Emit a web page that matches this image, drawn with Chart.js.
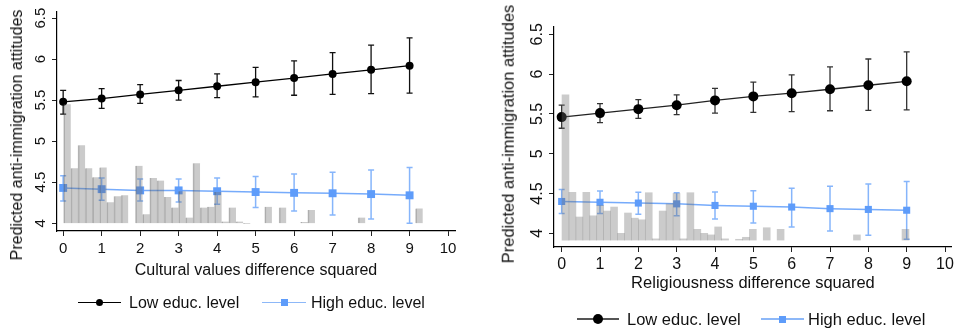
<!DOCTYPE html>
<html>
<head>
<meta charset="utf-8">
<script src="https://cdn.jsdelivr.net/npm/chart.js@4.4.1/dist/chart.umd.min.js"></script>
<style>
  html, body { margin: 0; padding: 0; background: #fff; }
  #wrap { position: relative; width: 957px; height: 329px; overflow: hidden;
          font-family: 'Liberation Sans', Arial, sans-serif; color: #111; }
  .panel { position: absolute; top: 0; height: 329px; }
  .ytitle { position: absolute; white-space: nowrap; line-height: 1;
            transform: translate(-50%, -50%) rotate(-90deg); }
  .leg { position: absolute; white-space: nowrap; line-height: 1; }
  .legline { position: absolute; }
  .legdot { position: absolute; border-radius: 50%; background: #000; }
  .legsq { position: absolute; background: #5e9cfa; }
</style>
</head>
<body>
<div id="wrap">
  <div class="panel" style="left:0;width:478px"><canvas id="culturalChart"></canvas></div>
  <div class="panel" style="left:478px;width:479px"><canvas id="religChart"></canvas></div>

  <div class="ytitle" style="left:16.5px;top:135px;font-size:16px">Predicted anti-immigration attitudes</div>
  <div class="ytitle" style="left:507.5px;top:134px;font-size:16.5px">Predicted anti-immigration attitudes</div>

  <!-- legend, left panel -->
  <div class="legline" style="left:78px;top:301.5px;width:43px;height:1px;background:#000"></div>
  <div class="legdot" style="left:95.5px;top:298.5px;width:7px;height:7px"></div>
  <div class="leg" style="left:129px;top:294.5px;font-size:16px">Low educ. level</div>
  <div class="legline" style="left:262px;top:301.5px;width:44px;height:1px;background:#8db8f8"></div>
  <div class="legsq" style="left:280.5px;top:298.5px;width:7px;height:7px"></div>
  <div class="leg" style="left:311px;top:294.5px;font-size:16px">High educ. level</div>

  <!-- legend, right panel -->
  <div class="legline" style="left:577px;top:318.3px;width:41.5px;height:1.5px;background:#555"></div>
  <div class="legdot" style="left:593px;top:314px;width:10px;height:10px"></div>
  <div class="leg" style="left:627px;top:311px;font-size:16.5px">Low educ. level</div>
  <div class="legline" style="left:761px;top:318.3px;width:43px;height:1.5px;background:#8db8f8"></div>
  <div class="legsq" style="left:779.2px;top:315.5px;width:7px;height:7px"></div>
  <div class="leg" style="left:808px;top:311px;font-size:16.5px">High educ. level</div>
</div>

<script>
// x positions of the predicted values
const xLevels = [0, 1, 2, 3, 4, 5, 6, 7, 8, 9];

// left panel: cultural values difference squared
const culturalLowMean = [5.48, 5.52, 5.57, 5.62, 5.67, 5.72, 5.77, 5.82, 5.87, 5.92];
const culturalLowLo   = [5.33, 5.40, 5.46, 5.50, 5.53, 5.54, 5.56, 5.57, 5.58, 5.585];
const culturalLowHi   = [5.62, 5.64, 5.69, 5.74, 5.82, 5.90, 5.98, 6.08, 6.17, 6.26];
const culturalHighMean = [4.43, 4.415, 4.40, 4.40, 4.39, 4.38, 4.37, 4.365, 4.355, 4.34];
const culturalHighLo   = [4.27, 4.28, 4.27, 4.26, 4.23, 4.19, 4.15, 4.10, 4.05, 4.00];
const culturalHighHi   = [4.58, 4.55, 4.54, 4.54, 4.55, 4.57, 4.60, 4.62, 4.65, 4.68];

// histogram behind the left panel (bin centres and bar tops, drawn from a base of 4)
const culturalHistX = [0.105, 0.292, 0.478, 0.665, 0.851, 1.038, 1.225, 1.411, 1.598,
                       1.971, 2.158, 2.344, 2.531, 2.717, 2.904, 3.091, 3.277, 3.464, 3.650, 3.837,
                       4.024, 4.210, 4.397, 4.583, 4.770, 5.330, 5.703, 6.263, 6.449, 7.756, 9.248];
const culturalHistTop = [5.45, 4.67, 4.95, 4.67, 4.56, 4.68, 4.255, 4.33, 4.34,
                         4.70, 4.11, 4.55, 4.52, 4.32, 4.19, 4.39, 4.07, 4.73, 4.19, 4.20,
                         4.38, 4.02, 4.19, 4.02, 3.99, 4.20, 4.19, 4.015, 4.16, 4.07, 4.18];
const culturalHistBase = 4;

// right panel: religiousness difference squared
const religLowMean = [5.46, 5.51, 5.56, 5.61, 5.67, 5.72, 5.76, 5.81, 5.86, 5.91];
const religLowLo   = [5.32, 5.39, 5.445, 5.49, 5.51, 5.52, 5.53, 5.54, 5.545, 5.55];
const religLowHi   = [5.61, 5.63, 5.68, 5.74, 5.82, 5.90, 5.99, 6.09, 6.19, 6.28];
const religHighMean = [4.40, 4.39, 4.38, 4.37, 4.35, 4.34, 4.33, 4.31, 4.30, 4.29];
const religHighLo   = [4.25, 4.25, 4.24, 4.22, 4.18, 4.13, 4.08, 4.03, 3.975, 3.925];
const religHighHi   = [4.55, 4.53, 4.515, 4.51, 4.52, 4.535, 4.565, 4.59, 4.62, 4.65];

const religHistX = [0.100, 0.281, 0.462, 0.643, 0.824, 1.005, 1.186, 1.367, 1.548, 1.729, 1.910, 2.091,
                    2.272, 2.453, 2.634, 2.815, 2.996, 3.177, 3.358, 3.539, 3.720, 3.901, 4.082, 4.263,
                    4.625, 4.806, 4.987, 5.349, 5.711, 7.702, 8.969];
const religHistTop = [5.74, 4.515, 4.205, 4.515, 4.22, 4.35, 4.28, 4.33, 4.00, 4.255, 4.19, 4.17,
                      4.51, 3.93, 4.28, 4.37, 4.50, 3.93, 4.51, 4.05, 4.00, 3.98, 4.08, 3.93,
                      3.925, 3.95, 4.05, 4.07, 4.05, 3.98, 4.05];
const religHistBase = 3.915;

// axis ticks
const xTickValues = [0, 1, 2, 3, 4, 5, 6, 7, 8, 9, 10];
const xTickLabels = ['0', '1', '2', '3', '4', '5', '6', '7', '8', '9', '10'];
const yTickValues = [4, 4.5, 5, 5.5, 6, 6.5];
const yTickLabels = ['4', '4.5', '5', '5.5', '6', '6.5'];

Chart.defaults.font.family = "'Liberation Sans', Arial, sans-serif";
Chart.defaults.color = '#111';

const BLUE = '#5e9cfa';

// vertical error bars with caps, drawn under the datasets through the chart scales
const errorBars = {
  id: 'errorBars',
  beforeDatasetsDraw(chart) {
    const { ctx, scales: { x, y } } = chart;
    chart.data.datasets.forEach((ds, i) => {
      if (!ds.errLow || !chart.isDatasetVisible(i)) return;
      ctx.save();
      ctx.strokeStyle = ds.errColor;
      ctx.lineWidth = ds.errWidth;
      ds.data.forEach((p, j) => {
        const px = x.getPixelForValue(p.x);
        const top = y.getPixelForValue(ds.errHigh[j]);
        const bot = y.getPixelForValue(ds.errLow[j]);
        const c = ds.errCap;
        ctx.beginPath();
        ctx.moveTo(px, top); ctx.lineTo(px, bot);
        ctx.moveTo(px - c, top); ctx.lineTo(px + c, top);
        ctx.moveTo(px - c, bot); ctx.lineTo(px + c, bot);
        ctx.stroke();
      });
      ctx.restore();
    });
  }
};

const points = (xs, ys) => xs.map((x, i) => ({ x, y: ys[i] }));
const histBars = (xs, tops, base) => xs.map((x, i) => ({ x, y: [base, tops[i]] }));

/**
 * Builds one panel. cfg holds the layout numbers of that panel.
 */
const makePanel = (id, cfg) => {
  const datasets = [
    {
      // bar width comes from the bin spacing (no gaps between touching bins)
      type: 'bar',
      data: histBars(cfg.histX, cfg.histTop, cfg.histBase),
      backgroundColor: 'rgba(110,110,110,0.36)',
      borderColor: cfg.histBorder,
      borderWidth: cfg.histBorderWidth,
      borderSkipped: false,
      barPercentage: 1,
      categoryPercentage: 1,
      order: 0
    },
    {
      type: 'line',
      data: points(xLevels, cfg.lowMean),
      borderColor: cfg.lowLine,
      borderWidth: 1.3,
      pointStyle: 'circle',
      pointRadius: cfg.dotRadius,
      pointBackgroundColor: '#000',
      pointBorderWidth: 0,
      errLow: cfg.lowLo, errHigh: cfg.lowHi,
      errColor: cfg.lowErr, errWidth: 1.3, errCap: 3,
      order: 1
    },
    {
      type: 'line',
      data: points(xLevels, cfg.highMean),
      borderColor: 'rgba(94,156,250,0.85)',
      borderWidth: 1.5,
      pointStyle: 'rect',
      pointRadius: cfg.sqRadius,
      pointBackgroundColor: BLUE,
      pointBorderWidth: 0,
      errLow: cfg.highLo, errHigh: cfg.highHi,
      errColor: 'rgba(94,156,250,0.75)', errWidth: 1.5, errCap: 3,
      order: 2
    }
  ];

  return new Chart(document.getElementById(id), {
    type: 'bar',
    data: { datasets },
    plugins: [errorBars],
    options: {
      responsive: true,
      maintainAspectRatio: false,
      animation: false,
      events: [],
      layout: { padding: cfg.padding },
      plugins: { legend: { display: false }, tooltip: { enabled: false } },
      scales: {
        x: {
          type: 'linear',
          min: cfg.xMin, max: cfg.xMax,
          offset: false,
          afterBuildTicks: s => { s.ticks = xTickValues.map(v => ({ value: v })); },
          afterFit: s => { s.height = cfg.xAxisHeight; },
          ticks: {
            autoSkip: false, maxRotation: 0, padding: cfg.xTickPad,
            font: { size: cfg.tickSize },
            callback: (v, i) => xTickLabels[i]
          },
          grid: { offset: false, drawOnChartArea: false, drawTicks: true, tickLength: 5, color: '#222', tickWidth: 1 },
          border: { display: true, color: '#000', width: 1.2 },
          title: {
            display: true, text: cfg.xTitle,
            font: { size: cfg.titleSize }, color: '#111',
            padding: { top: 0, bottom: 0 }
          }
        },
        y: {
          type: 'linear',
          min: cfg.yMin, max: cfg.yMax,
          afterBuildTicks: s => { s.ticks = yTickValues.map(v => ({ value: v })); },
          afterFit: s => { s.width = cfg.yAxisWidth; },
          ticks: {
            minRotation: 90, maxRotation: 90, crossAlign: 'center',
            padding: cfg.yTickPad,
            font: { size: cfg.tickSize },
            callback: (v, i) => yTickLabels[i]
          },
          grid: { drawOnChartArea: false, drawTicks: true, tickLength: 5, color: '#222', tickWidth: 1 },
          border: { display: true, color: '#000', width: 1.2 }
        }
      }
    }
  });
};

makePanel('culturalChart', {
  histX: culturalHistX, histTop: culturalHistTop, histBase: culturalHistBase,
  histBorder: 'rgba(70,70,70,0.35)', histBorderWidth: { left: 1, right: 0, top: 0, bottom: 0 },
  lowMean: culturalLowMean, lowLo: culturalLowLo, lowHi: culturalLowHi,
  highMean: culturalHighMean, highLo: culturalHighLo, highHi: culturalHighHi,
  lowLine: '#000', lowErr: '#111', dotRadius: 4, sqRadius: 5.6,
  xMin: -0.16, xMax: 10.18, yMin: 3.905, yMax: 6.575,
  padding: { left: 0, top: 12, right: 23, bottom: 49 },
  xAxisHeight: 49, yAxisWidth: 57, xTickPad: 4, yTickPad: 1,
  tickSize: 15, titleSize: 16,
  xTitle: 'Cultural values difference squared'
});

makePanel('religChart', {
  histX: religHistX, histTop: religHistTop, histBase: religHistBase,
  histBorder: 'rgba(0,0,0,0)', histBorderWidth: 0,
  lowMean: religLowMean, lowLo: religLowLo, lowHi: religLowHi,
  highMean: religHighMean, highLo: religHighLo, highHi: religHighHi,
  lowLine: '#222', lowErr: '#333', dotRadius: 5, sqRadius: 5,
  xMin: -0.2, xMax: 10.18, yMin: 3.828, yMax: 6.592,
  padding: { left: 0, top: 27, right: 4, bottom: 35.5 },
  xAxisHeight: 46.5, yAxisWidth: 76, xTickPad: 3, yTickPad: 0,
  tickSize: 16, titleSize: 16.5,
  xTitle: 'Religiousness difference squared'
});
</script>
</body>
</html>
